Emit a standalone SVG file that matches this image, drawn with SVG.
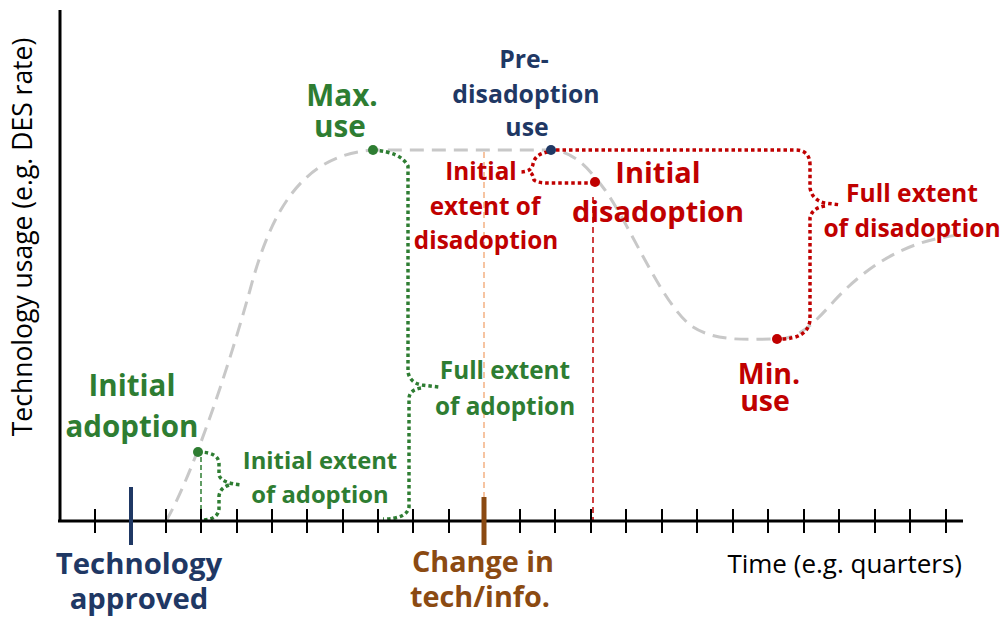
<svg xmlns="http://www.w3.org/2000/svg" width="1003" height="621" viewBox="0 0 1003 621">
  <style>
    .lbl { font-family: "Open Sans", "Liberation Sans", sans-serif; font-weight: bold; text-anchor: middle; }
    .plain { font-family: "Open Sans", "Liberation Sans", sans-serif; font-weight: normal; }
    .green { fill: #2E7D32; }
    .navy { fill: #1F3864; }
    .red { fill: #C00000; }
    .brown { fill: #8B4A12; }
    .curve { fill: none; stroke: #C8C8C8; stroke-width: 3; stroke-dasharray: 14 8; }
    .dotG { fill: none; stroke: #2E7D32; stroke-width: 3.5; stroke-dasharray: 3.5 3; }
    .dotR { fill: none; stroke: #C00000; stroke-width: 3.5; stroke-dasharray: 3.5 3; }
    .tick { stroke: #000; stroke-width: 2; }
  </style>

  <!-- usage curve -->
  <g id="usage-curve">
    <path class="curve" d="M166,521 C190,480 225,380 250,290 C270,215 300,155 373,150 L553,150 C575,152 590,170 605,190 C630,225 660,300 690,325 C715,343 750,339 777,339 C800,339 815,322 835,300 C865,268 905,240 960,235"/>
  </g>

  <!-- reference lines and extent braces -->
  <g id="connectors">
    <line x1="201" y1="457" x2="201" y2="520" stroke="#2E7D32" stroke-width="1.5" stroke-dasharray="5 3"/>
    <line x1="484" y1="152" x2="484" y2="497" stroke="#F4B183" stroke-width="1.5" stroke-dasharray="6 4"/>
    <line x1="593" y1="197" x2="593" y2="520" stroke="#C00000" stroke-width="1.5" stroke-dasharray="6 4"/>

    <!-- initial extent of adoption -->
    <path class="dotG" d="M198,452 Q218,452 219,463 L219,475 Q221,483 241,485"/>
    <path class="dotG" d="M229,485 Q220,488 219,496 L219,509 Q218,519 204,520"/>
    <!-- full extent of adoption -->
    <path class="dotG" d="M373,150 Q401,152 408,166 L408,372 Q410,383 422,385 L439,387"/>
    <path class="dotG" d="M421,388 Q409,390 409,399 L409,507 Q407,519 383,519"/>
    <!-- initial extent of disadoption -->
    <path class="dotR" d="M548,152 Q535,154 533,164 Q532,172 520,172"/>
    <path class="dotR" d="M531,173 Q533,175 534,180 Q537,183 549,183 L593,183"/>
    <!-- full extent of disadoption -->
    <path class="dotR" d="M556,150 L795,150 Q810,150 810,165 L810,188 Q812,200 825,203 L841,205"/>
    <path class="dotR" d="M825,206 Q812,208 810,218 L810,320 Q808,339 780,339"/>
  </g>

  <!-- axes -->
  <g id="axes">
    <line x1="60" y1="10" x2="60" y2="522" stroke="#000" stroke-width="3"/>
    <line x1="58" y1="521" x2="963" y2="521" stroke="#000" stroke-width="3"/>
    <g class="tick">
      <line x1="95" y1="509" x2="95" y2="533"/>
      <line x1="166" y1="509" x2="166" y2="533"/>
      <line x1="201" y1="509" x2="201" y2="533"/>
      <line x1="237" y1="509" x2="237" y2="533"/>
      <line x1="272" y1="509" x2="272" y2="533"/>
      <line x1="307" y1="509" x2="307" y2="533"/>
      <line x1="343" y1="509" x2="343" y2="533"/>
      <line x1="378" y1="509" x2="378" y2="533"/>
      <line x1="413" y1="509" x2="413" y2="533"/>
      <line x1="449" y1="509" x2="449" y2="533"/>
      <line x1="520" y1="509" x2="520" y2="533"/>
      <line x1="555" y1="509" x2="555" y2="533"/>
      <line x1="591" y1="509" x2="591" y2="533"/>
      <line x1="626" y1="509" x2="626" y2="533"/>
      <line x1="662" y1="509" x2="662" y2="533"/>
      <line x1="697" y1="509" x2="697" y2="533"/>
      <line x1="733" y1="509" x2="733" y2="533"/>
      <line x1="768" y1="509" x2="768" y2="533"/>
      <line x1="804" y1="509" x2="804" y2="533"/>
      <line x1="839" y1="509" x2="839" y2="533"/>
      <line x1="875" y1="509" x2="875" y2="533"/>
      <line x1="910" y1="509" x2="910" y2="533"/>
      <line x1="946" y1="509" x2="946" y2="533"/>
    </g>
    <text class="plain" x="32" y="237" font-size="26.5" text-anchor="middle" fill="#000" transform="rotate(-90 32 237)">Technology usage (e.g. DES rate)</text>
    <text class="plain" x="962" y="573" font-size="26" text-anchor="end" fill="#000">Time (e.g. quarters)</text>
  </g>

  <!-- event markers -->
  <g id="technology-approved">
    <line x1="131" y1="487" x2="131" y2="545" stroke="#1F3864" stroke-width="4"/>
    <text class="lbl navy" x="139" y="574" font-size="29.3">Technology</text>
    <text class="lbl navy" x="139" y="609" font-size="29.3">approved</text>
  </g>
  <g id="change-in-tech">
    <line x1="484" y1="497" x2="484" y2="545" stroke="#8B4A12" stroke-width="5"/>
    <text class="lbl brown" x="483" y="572" font-size="28.8">Change in</text>
    <text class="lbl brown" x="480" y="607" font-size="28.8">tech/info.</text>
  </g>

  <!-- labelled points -->
  <g id="initial-adoption">
    <circle cx="198" cy="452" r="5" fill="#2E7D32"/>
    <text class="lbl green" x="132" y="396" font-size="29.5">Initial</text>
    <text class="lbl green" x="132" y="437" font-size="29.5">adoption</text>
  </g>
  <g id="initial-extent-of-adoption">
    <text class="lbl green" x="320" y="469" font-size="23.8">Initial extent</text>
    <text class="lbl green" x="320" y="503" font-size="23.8">of adoption</text>
  </g>
  <g id="max-use">
    <circle cx="373" cy="150" r="5" fill="#2E7D32"/>
    <text class="lbl green" x="342" y="106" font-size="29.7">Max.</text>
    <text class="lbl green" x="340" y="137" font-size="29.7">use</text>
  </g>
  <g id="full-extent-of-adoption">
    <text class="lbl green" x="505" y="379" font-size="24.3">Full extent</text>
    <text class="lbl green" x="505" y="415" font-size="24.3">of adoption</text>
  </g>
  <g id="pre-disadoption-use">
    <circle cx="551" cy="150" r="5" fill="#1F3864"/>
    <text class="lbl navy" x="524" y="68" font-size="24.8">Pre-</text>
    <text class="lbl navy" x="526" y="103" font-size="24.8">disadoption</text>
    <text class="lbl navy" x="527" y="136" font-size="24.8">use</text>
  </g>
  <g id="initial-extent-of-disadoption">
    <text class="lbl red" x="481" y="180" font-size="24.3">Initial</text>
    <text class="lbl red" x="485" y="215" font-size="24.3">extent of</text>
    <text class="lbl red" x="486" y="249" font-size="24.3">disadoption</text>
  </g>
  <g id="initial-disadoption">
    <circle cx="595" cy="182" r="5" fill="#C00000"/>
    <text class="lbl red" x="658" y="183" font-size="29">Initial</text>
    <text class="lbl red" x="658" y="222" font-size="29">disadoption</text>
  </g>
  <g id="full-extent-of-disadoption">
    <text class="lbl red" x="912" y="202" font-size="24.6">Full extent</text>
    <text class="lbl red" x="912" y="237" font-size="24.6">of disadoption</text>
  </g>
  <g id="min-use">
    <circle cx="777" cy="339" r="5" fill="#C00000"/>
    <text class="lbl red" x="769" y="384" font-size="28.5">Min.</text>
    <text class="lbl red" x="765" y="411" font-size="28.5">use</text>
  </g>
</svg>
